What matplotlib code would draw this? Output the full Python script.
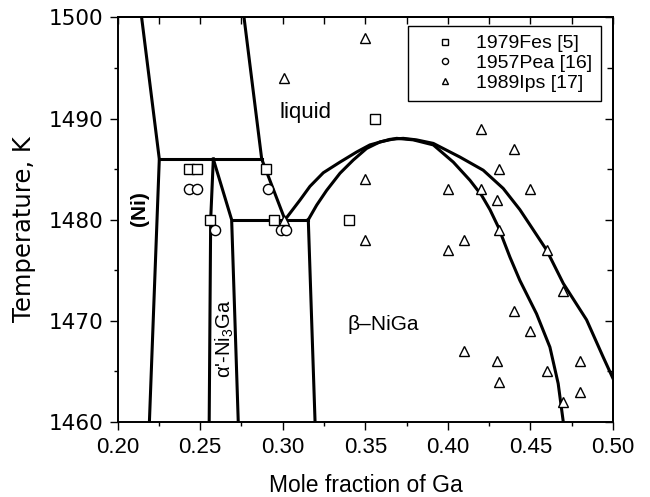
import matplotlib
matplotlib.use("Agg")
import matplotlib.pyplot as plt
from matplotlib.ticker import MultipleLocator, FixedLocator

# ---------------- data ----------------
# experimental points
fes_x = [0.243, 0.248, 0.290, 0.256, 0.295, 0.356, 0.340]
fes_T = [1485, 1485, 1485, 1480, 1480, 1490, 1480]

pea_x = [0.243, 0.248, 0.291, 0.259, 0.299, 0.302]
pea_T = [1483, 1483, 1483, 1479, 1479, 1479]

ips_x = [0.350, 0.301, 0.420, 0.440, 0.431, 0.350, 0.400, 0.420, 0.450,
         0.430, 0.301, 0.431, 0.350, 0.410, 0.400, 0.460, 0.470, 0.440,
         0.450, 0.410, 0.430, 0.480, 0.460, 0.431, 0.480, 0.470]
ips_T = [1498, 1494, 1489, 1487, 1485, 1484, 1483, 1483, 1483,
         1482, 1480, 1479, 1478, 1478, 1477, 1477, 1473, 1471,
         1469, 1467, 1466, 1466, 1465, 1464, 1463, 1462]

# calculated phase boundaries
ni_liq_x = [0.2146, 0.2253, 0.2193]
ni_liq_T = [1500, 1486, 1460]

liq_left_x = [0.2766, 0.2873, 0.3014]
liq_left_T = [1500, 1486, 1480]

peri1_x = [0.2253, 0.2873]
peri1_T = [1486, 1486]

a_left_x = [0.2580, 0.2564, 0.2555]
a_left_T = [1486, 1480, 1460]

a_right_x = [0.2580, 0.2691, 0.2731]
a_right_T = [1486, 1480, 1460]

peri2_x = [0.2691, 0.3155]
peri2_T = [1480, 1480]

b_left_x = [0.3155, 0.3196]
b_left_T = [1480, 1460]

liquidus_x = [0.3014, 0.3105, 0.3165, 0.3246, 0.3347, 0.3448, 0.3528, 0.3649,
              0.3730, 0.3810, 0.3912, 0.4073, 0.4214, 0.4335, 0.4436, 0.4497,
              0.4598, 0.4699, 0.4840, 0.4941, 0.5000]
liquidus_T = [1480.0, 1481.95, 1483.3, 1484.65, 1485.7, 1486.7, 1487.4, 1487.95,
              1488.05, 1487.9, 1487.55, 1486.2, 1484.9, 1483.1, 1481.0, 1479.5,
              1477.0, 1473.7, 1470.1, 1466.4, 1464.3]

solidus_x = [0.3155, 0.3206, 0.3266, 0.3347, 0.3427, 0.3508, 0.3589, 0.3690,
             0.3790, 0.3912, 0.4033, 0.4134, 0.4205, 0.4255, 0.4305, 0.4376,
             0.4436, 0.4537, 0.4618, 0.4668, 0.4699]
solidus_T = [1480.0, 1481.45, 1482.9, 1484.6, 1485.9, 1487.05, 1487.7, 1488.05,
             1487.9, 1487.4, 1485.7, 1483.9, 1482.4, 1481.0, 1479.3, 1476.3,
             1474.0, 1470.7, 1467.4, 1463.8, 1460.0]

xticks = [0.20, 0.25, 0.30, 0.35, 0.40, 0.45, 0.50]
xtick_labels = ["0.20", "0.25", "0.30", "0.35", "0.40", "0.45", "0.50"]
yticks = [1460, 1470, 1480, 1490, 1500]
ytick_labels = ["1460", "1470", "1480", "1490", "1500"]

legend_labels = ["1979Fes [5]", "1957Pea [16]", "1989Ips [17]"]

# ---------------- figure ----------------
plt.rcParams['font.family'] = ['Liberation Sans', 'DejaVu Sans']
plt.rcParams['mathtext.default'] = 'regular'

fig = plt.figure(figsize=(6.5, 4.97), dpi=100)
ax = fig.add_axes([0.1808, 0.1509, 0.9431 - 0.1808, 0.9648 - 0.1509])

lw = 2.2
for xs, ts in [(ni_liq_x, ni_liq_T), (liq_left_x, liq_left_T), (peri1_x, peri1_T),
               (a_left_x, a_left_T), (a_right_x, a_right_T), (peri2_x, peri2_T),
               (b_left_x, b_left_T)]:
    ax.plot(xs, ts, color='black', lw=lw, solid_joinstyle='miter', zorder=2)
for xs, ts in [(liquidus_x, liquidus_T), (solidus_x, solidus_T)]:
    ax.plot(xs, ts, color='black', lw=lw, solid_joinstyle='round', zorder=2)

ms = 7.0
mew = 1.0
h1, = ax.plot(fes_x, fes_T, ls='none', marker='s', ms=ms * 0.95, mfc='white',
              mec='black', mew=mew, zorder=3, label=legend_labels[0])
h2, = ax.plot(pea_x, pea_T, ls='none', marker='o', ms=ms * 1.05, mfc='white',
              mec='black', mew=mew, zorder=3, label=legend_labels[1])
h3, = ax.plot(ips_x, ips_T, ls='none', marker='^', ms=ms, mfc='white',
              mec='black', mew=mew, zorder=3, label=legend_labels[2])

ax.set_xlim(0.20, 0.50)
ax.set_ylim(1460, 1500)

ax.xaxis.set_major_locator(FixedLocator(xticks))
ax.set_xticklabels(xtick_labels)
ax.yaxis.set_major_locator(FixedLocator(yticks))
ax.set_yticklabels(ytick_labels)
ax.xaxis.set_minor_locator(MultipleLocator(0.025))
ax.yaxis.set_minor_locator(MultipleLocator(5))

for sp in ax.spines.values():
    sp.set_linewidth(1.4)

ax.tick_params(which='both', direction='out', width=1.0)
ax.tick_params(which='major', length=6)
ax.tick_params(which='minor', length=3)
ax.tick_params(axis='x', labelsize=16, pad=5)
ax.tick_params(axis='y', pad=4)
for lab in ax.get_yticklabels():
    lab.set_fontfamily('DejaVu Sans')
    lab.set_fontsize(15.5)

# mirrored ticks on top and right, pointing inwards
secx = ax.secondary_xaxis('top')
secx.xaxis.set_major_locator(FixedLocator(xticks))
secx.xaxis.set_minor_locator(MultipleLocator(0.025))
secx.tick_params(which='both', direction='in', width=1.0, labeltop=False)
secx.tick_params(which='major', length=5)
secx.tick_params(which='minor', length=5)
secx.spines['top'].set_linewidth(1.4)

secy = ax.secondary_yaxis('right')
secy.yaxis.set_major_locator(FixedLocator(yticks))
secy.yaxis.set_minor_locator(MultipleLocator(5))
secy.tick_params(which='both', direction='in', width=1.0, labelright=False)
secy.tick_params(which='major', length=6)
secy.tick_params(which='minor', length=4)
secy.spines['right'].set_linewidth(1.4)

ax.set_xlabel("Mole fraction of Ga", fontsize=16.5, va='center', ha='center')
ax.xaxis.set_label_coords(0.5015, -0.158)
ax.set_ylabel("Temperature, K", fontsize=17.5, family='DejaVu Sans',
              va='center', ha='center')
ax.yaxis.set_label_coords(-0.189, 0.478)

# region labels
ax.text(0.3141, 1490.65, "liquid", fontsize=16, ha='center', va='center')
ax.text(0.2136, 1481.1, "(Ni)", fontsize=15, fontweight='bold', rotation=90,
        ha='center', va='center')
ax.text(0.3607, 1469.6, "β–NiGa", fontsize=15, ha='center', va='center')
ax.text(0.2651, 1468.2, "α'-Ni$_3$Ga", fontsize=14.5, rotation=90,
        ha='center', va='center')

leg = ax.legend(handles=[h1, h2, h3], loc='upper right',
                bbox_to_anchor=(0.9758, 0.979), borderaxespad=0,
                fontsize=14, markerscale=0.6, frameon=True, fancybox=False,
                edgecolor='black', borderpad=0.45, handlelength=2.9,
                handletextpad=0.15, labelspacing=0.12)
leg.get_frame().set_linewidth(1.0)
leg.get_frame().set_alpha(None)
leg.set_zorder(5)

fig.savefig("out.png", dpi=100)
